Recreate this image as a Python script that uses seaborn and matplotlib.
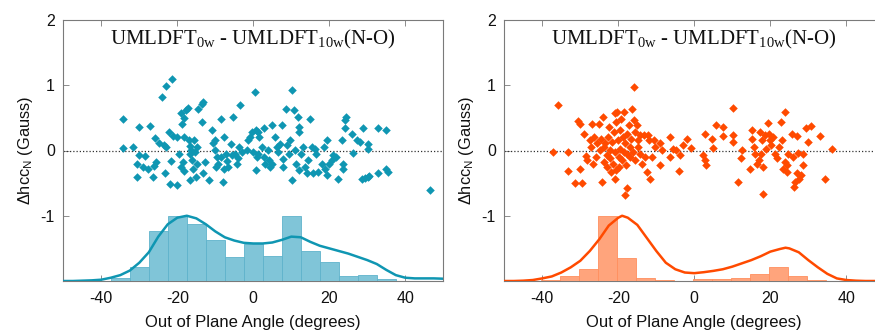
import numpy as np
import pandas as pd
import matplotlib
matplotlib.use("Agg")
import matplotlib.pyplot as plt
import seaborn as sns

# ---------------- data ----------------
left_x = [-34.3, -34.3, -31.7, -30.0, -30.6, -30.6, -30.0, -28.5, -29.1, -27.2, -27.8, -26.5, -26.0, -25.6,
          -26.2, -24.9, -23.9, -23.4, -23.3, -23.0, -23.0, -22.3, -21.9, -21.4, -21.7, -21.2, -20.2, -20.2,
          -19.5, -19.1, -18.8, -18.6, -18.3, -18.2, -19.1, -18.3, -17.6, -17.1, -16.9, -16.7, -16.6, -16.5,
          -16.2, -16.7, -16.0, -15.6, -15.4, -14.9, -14.8, -15.2, -14.5, -13.6, -13.2, -13.4, -13.2, -12.6,
          -11.6, -10.9, -10.7, -10.1, -10.2, -9.6, -9.8, -9.2, -8.6, -8.4, -7.9, -7.7, -7.6, -7.2, -6.8,
          -6.6, -6.0, -5.6, -5.3, -4.7, -4.4, -4.0, -3.8, -3.4, -2.9, -1.6, -1.4, -0.9, -0.3, 0.0, 0.4,
          0.6, 0.6, 1.3, 1.3, 1.0, 1.6, 2.3, 2.8, 2.8, 3.2, 3.9, 4.2, 4.5, 4.9, 4.9, 5.8, 6.2, 6.6, 7.1,
          7.5, 7.7, 7.9, 8.5, 8.8, 9.3, 9.7, 10.1, 10.1, 10.8, 11.0, 11.3, 11.7, 11.9, 12.1, 12.1, 12.6,
          13.2, 13.6, 14.1, 14.5, 14.9, 15.4, 15.8, 16.3, 16.4, 16.9, 18.0, 18.7, 18.9, 19.3, 19.3, 19.8,
          20.6, 21.1, 21.7, 22.4, 23.3, 23.7, 24.1, 24.4, 24.1, 23.7, 25.9, 26.3, 27.2, 28.0, 28.8, 28.5,
          29.4, 30.1, 30.4, 30.1, 30.3, 32.7, 32.9, 34.8, 34.8, 35.5, 46.5]
left_y = [0.48, 0.04, 0.05, 0.36, -0.21, -0.40, -0.07, -0.08, -0.25, 0.38, -0.28, -0.40, 0.19, -0.18,
          -0.23, 0.11, 0.82, 0.08, -0.34, 0.99, 0.06, 0.29, -0.51, 1.09, -0.16, 0.22, -0.53, 0.20,
          -0.06, 0.57, 0.41, -0.18, 0.50, 0.20, -0.25, -0.32, 0.62, 0.65, 0.16, 0.07, -0.05, 0.005,
          -0.15, -0.45, -0.28, 0.16, -0.02, 0.06, -0.20, -0.40, 0.64, 0.72, 0.75, 0.44, -0.35, -0.17,
          -0.45, 0.31, 0.12, 0.16, 0.01, -0.10, -0.26, -0.20, 0.48, -0.10, -0.48, 0.20, -0.28, -0.05, -0.16,
          -0.25, 0.10, -0.07, 0.51, -0.05, -0.20, -0.12, 0.06, 0.70, -0.02, 0.005, 0.16, 0.21, 0.29, -0.02, 0.89,
          0.31, -0.30, 0.29, -0.05, -0.10, 0.21, 0.06, 0.35, -0.10, -0.20, 0.005, -0.15, -0.25, 0.39, -0.20,
          0.21, 0.06, -0.02, 0.10,
          0.39, -0.13, -0.25, 0.64, 0.08, -0.05, 0.16, 0.92, -0.45, 0.62, 0.005, -0.20, 0.52, -0.30, 0.36,
          0.29, -0.05,
          0.06, -0.25, -0.35, -0.15, 0.49, 0.06, -0.35, 0.03, -0.05, -0.33, -0.20, 0.06, -0.28, 0.16, -0.38,
          -0.20,
          -0.15, -0.07, -0.10, -0.43, 0.16, -0.20, 0.46, 0.51, 0.34, -0.28, 0.26, -0.04, 0.16, 0.13, 0.35,
          -0.44,
          -0.42, -0.40, -0.39, 0.10, 0.03, 0.35, -0.34, 0.32, -0.28, -0.33, -0.61]

right_x = [-37.1, -35.9, -33.2, -33.2, -31.3, -29.5, -30.6, -30.0, -30.0, -28.9, -28.4, -28.2, -27.5, -27.3,
           -26.9, -26.6, -26.3, -26.0, -25.6, -25.2, -24.9, -24.6, -24.3, -24.1, -23.8, -23.7, -23.4, -23.1,
           -23.0, -22.8, -22.5, -22.3, -22.1, -21.9, -21.7, -21.4, -21.2, -21.0, -20.9, -20.8, -20.6, -20.5,
           -20.3, -20.2, -19.9, -19.7, -19.5, -19.5, -19.2, -19.0, -18.8, -18.6, -18.4, -18.3, -18.2, -18.0,
           -17.7, -17.7, -17.6, -17.3, -17.0, -16.8, -16.6, -16.4, -16.1, -16.0, -15.8, -15.7, -15.5, -15.1,
           -14.9, -14.7, -14.4, -14.2, -13.8, -13.3, -12.9, -12.5, -12.3, -11.8, -11.6, -11.2, -10.7, -10.3,
           -9.1, -8.9, -8.5, -6.5, -6.4, -5.5, -4.8, -3.9, -3.7, -2.9, -1.8, -0.9, 2.4, 2.9, 2.9, 3.1, 4.6,
           4.8, 5.7, 7.5, 7.5, 10.1, 10.3, 10.3, 11.6, 12.3, 12.5, 14.7, 15.1, 15.1, 15.8, 16.0, 16.4, 16.9,
           17.3, 17.5, 17.7, 18.0, 18.2, 18.6, 18.9, 19.5, 19.7, 19.9, 20.3, 20.8, 21.2, 21.8, 22.3, 22.7,
           23.0, 23.4, 23.8, 23.8, 24.3, 24.4, 24.7, 25.6, 25.9, 26.2, 26.5, 26.9, 27.1, 27.3, 27.6, 28.2,
           28.5, 28.7, 29.5, 30.0, 30.8, 33.0, 34.3, 36.3]
right_y = [-0.02, 0.70, -0.03, -0.31, -0.50, -0.50, 0.45, 0.40, -0.29, 0.26, -0.09, -0.15, 0.16, 0.06,
           0.40, -0.21, 0.21, -0.10, 0.11, 0.40, 0.005, 0.18, -0.48, 0.51, 0.06, -0.17, 0.11, -0.07,
           -0.25, 0.21, 0.36, 0.005, -0.12, -0.33, 0.13, -0.20, 0.29, 0.57, -0.02, -0.43, -0.30, 0.44,
           0.59, 0.16, -0.10, -0.25, 0.31, 0.03, 0.49, -0.15, 0.21, 0.59, -0.02, -0.68, 0.11, -0.22,
           -0.58, -0.05, 0.26, 0.39, 0.06, -0.10, 0.18, 0.64, -0.02, 0.46, 0.98, -0.15, 0.29, 0.39,
           0.06, 0.16, -0.05, 0.24, -0.20, 0.24, -0.10, -0.33, 0.24, 0.16, -0.43, -0.10, 0.16, 0.06,
           0.12, -0.22, 0.015, 0.21, -0.10, 0.03, 0.015, -0.32, -0.07, 0.08, 0.18, 0.04, -0.07, 0.26, -0.15,
           -0.22, 0.18,
           0.04, 0.39, 0.36, 0.22, 0.65, 0.24, 0.13, -0.48, -0.11, 0.015, -0.29, 0.31, 0.18, 0.06, -0.05,
           -0.20, -0.15,
           0.29, -0.05, 0.16, -0.25, -0.67, 0.24, 0.03, 0.42, 0.26, 0.16, 0.08, 0.21, -0.05, -0.12, 0.06,
           0.44,
           0.16, -0.28, 0.59, -0.17, -0.22, -0.33, -0.05, 0.26, -0.10, -0.56, -0.48, -0.35, 0.22, -0.04,
           -0.43, -0.38,
           -0.05, -0.22, 0.35, 0.13, 0.37, 0.22, -0.43, 0.03]

# histogram bars (bin centres, height relative to the tallest bar)
left_bins = [-35, -30, -25, -20, -15, -10, -5, 0, 5, 10, 15, 20, 25, 30, 35]
left_hist = [0.05, 0.22, 0.77, 1.0, 0.87, 0.63, 0.37, 0.57, 0.39, 1.0, 0.46, 0.29, 0.08, 0.09, 0.03]
right_bins = [-37.9, -32.9, -27.9, -22.9, -17.9, -12.9, -7.9, -2.9, 2.1, 7.1, 12.1, 17.1, 22.1, 27.1, 32.1]
right_hist = [0.01, 0.08, 0.18, 1.0, 0.36, 0.05, 0.02, 0.005, 0.025, 0.025, 0.04, 0.10, 0.21, 0.07, 0.01]

# density curves (relative to their maximum)
left_kde_x = [-50, -47.5, -45, -42.5, -40, -37.5, -35, -32.5, -30, -27.5, -25, -22.5, -20, -17.5, -15,
              -12.5, -10, -7.5, -5, -2.5, 0, 2.5, 5, 7.5, 10, 12.5, 15, 17.5, 20, 22.5, 25, 27.5, 30,
              32.5, 35, 37.5, 40, 42.5, 45, 47.5, 50]
left_kde_y = [0.0, 0.0, 0.005, 0.01, 0.02, 0.05, 0.09, 0.16, 0.28, 0.44, 0.68, 0.87, 0.97, 1.0, 0.96,
              0.87, 0.76, 0.67, 0.62, 0.585, 0.575, 0.575, 0.59, 0.63, 0.68, 0.67, 0.60, 0.54, 0.50,
              0.46, 0.42, 0.37, 0.32, 0.26, 0.17, 0.09, 0.05, 0.04, 0.04, 0.04, 0.035]
right_kde_x = [-50, -47.5, -45, -42.5, -40, -37.5, -35, -32.5, -30, -27.5, -25, -22.5, -20, -19, -17.5,
               -15, -12.5, -10, -7.5, -5, -2.5, 0, 2.5, 5, 7.5, 10, 12.5, 15, 17.5, 20, 22.5, 24, 25,
               27.5, 30, 32.5, 35, 37.5, 40, 42.5, 45, 47.5, 50]
right_kde_y = [0.0, 0.0, 0.005, 0.015, 0.04, 0.07, 0.13, 0.21, 0.31, 0.46, 0.64, 0.85, 0.97, 1.0, 0.97,
               0.86, 0.66, 0.46, 0.28, 0.18, 0.13, 0.12, 0.135, 0.155, 0.18, 0.22, 0.27, 0.32, 0.38,
               0.45, 0.49, 0.51, 0.50, 0.44, 0.32, 0.21, 0.11, 0.04, 0.015, 0.005, 0.0, 0.0, 0.0]

title = "UMLDFT$_\\mathregular{0w}$ - UMLDFT$_\\mathregular{10w}$(N-O)"
xlabel = "Out of Plane Angle (degrees)"
ylabel = "Δhcc$_\\mathregular{N}$ (Gauss)"

# ---------------- styling ----------------
sns.set_theme(style="ticks")
plt.rcParams["font.family"] = ["Liberation Sans", "DejaVu Sans"]
plt.rcParams["axes.unicode_minus"] = False

W, H = 875, 330
fig = plt.figure(figsize=(W / 100, H / 100), dpi=100)

panels = [
    dict(left=63.3, x=left_x, y=left_y, bins=left_bins, hist=left_hist, kx=left_kde_x, ky=left_kde_y,
         c="#0F96B2", bar="#80C5D8", edge="#5FB3CB"),
    dict(left=504.3, x=right_x, y=right_y, bins=right_bins, hist=right_hist, kx=right_kde_x, ky=right_kde_y,
         c="#FF4A00", bar="#FFA47C", edge="#FF8F5E"),
]

frame = "#7a7a7a"
for p in panels:
    ax = fig.add_axes([p["left"] / W, 49 / H, 380 / W, 261 / H])
    ax.set_xlim(-50, 50)
    ax.set_ylim(-2, 2)
    ax.axhline(0, color="#333333", lw=0.9, ls=(0, (1, 1.6)), zorder=1)
    sns.scatterplot(x=p["x"], y=p["y"], ax=ax, marker="D", s=19, color=p["c"], linewidth=0, zorder=3)
    ax.set_xticks([-40, -20, 0, 20, 40])
    ax.set_yticks([-1, 0, 1, 2])
    ax.tick_params(direction="in", top=True, right=True, length=4, width=0.6, color=frame,
                   labelsize=11.5, labelcolor="#111111", pad=7)
    ax.tick_params(axis="y", pad=6)
    for s in ax.spines.values():
        s.set_color(frame)
        s.set_linewidth(0.8)
    ax.set_xlabel(xlabel, fontsize=12, labelpad=7, color="#111111")
    ax.set_ylabel(ylabel, fontsize=11.8, labelpad=4, color="#111111")
    ax.text(0.5, 0.905, title, transform=ax.transAxes, ha="center", va="baseline",
            fontsize=15, family=["Liberation Serif", "DejaVu Serif"], color="#111111")

    # histogram + density on a twin scale: 0 at the bottom, 1 at the y=-1 level
    tw = ax.twinx()
    tw.set_ylim(0, 4)
    b0 = p["bins"][0] - 2.5
    b1 = p["bins"][-1] + 2.5
    sns.histplot(x=p["bins"], weights=p["hist"], binwidth=5, binrange=(b0, b1), ax=tw,
                 color=p["bar"], edgecolor=p["edge"], linewidth=0.6, alpha=1.0)
    sns.lineplot(x=p["kx"], y=p["ky"], ax=tw, color=p["c"], lw=1.8, sort=False)
    tw.set_xlim(-50, 50)
    tw.set_yticks([])
    tw.set_ylabel("")
    for s in tw.spines.values():
        s.set_visible(False)

fig.savefig("out.png", dpi=100)
